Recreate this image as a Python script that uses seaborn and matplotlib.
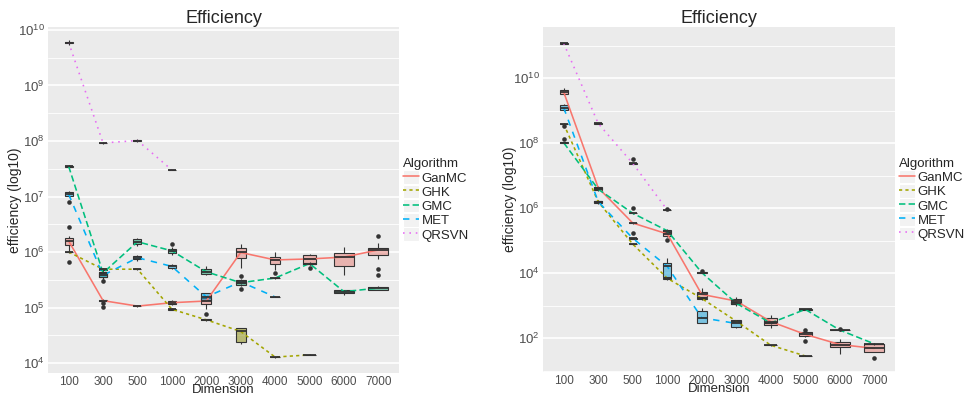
import matplotlib
matplotlib.use("Agg")
import pandas as pd
import matplotlib.pyplot as plt
import seaborn as sns
from matplotlib.lines import Line2D
from matplotlib.patches import Patch
from matplotlib.ticker import FixedLocator, NullFormatter

# -------------------------------
# Data
# each box is (lower whisker, q1, median, q3, upper whisker), None = no run
# -------------------------------
DIMS = ["100", "300", "500", "1000", "2000", "3000", "4000", "5000", "6000", "7000"]
ALGS = ["GanMC", "GHK", "GMC", "MET", "QRSVN"]

left_ganmc = [(1.04e6, 1.34e6, 1.58e6, 1.77e6, 1.94e6), (1.25e5, 1.30e5, 1.33e5, 1.36e5, 1.40e5),
              (1.03e5, 1.05e5, 1.06e5, 1.07e5, 1.09e5), (1.10e5, 1.14e5, 1.22e5, 1.31e5, 1.35e5),
              (9.4e4, 1.14e5, 1.31e5, 1.47e5, 1.60e5), (5.1e5, 7.7e5, 9.8e5, 1.17e6, 1.38e6),
              (4.8e5, 6.1e5, 7.2e5, 8.0e5, 1.01e6), (5.9e5, 6.1e5, 7.5e5, 8.9e5, 9.2e5),
              (3.9e5, 5.6e5, 8.1e5, 9.5e5, 1.22e6), (7.4e5, 8.9e5, 1.09e6, 1.20e6, 1.43e6)]
left_ghk = [(9.7e5, 9.9e5, 1.0e6, 1.01e6, 1.03e6), (4.7e5, 4.8e5, 4.9e5, 5.0e5, 5.1e5),
            (4.8e5, 4.85e5, 4.9e5, 4.95e5, 5.0e5), (9.0e4, 9.2e4, 9.3e4, 9.4e4, 9.6e4),
            (5.8e4, 5.9e4, 6.0e4, 6.1e4, 6.2e4), (2.2e4, 2.4e4, 3.7e4, 4.2e4, 4.3e4),
            (1.25e4, 1.27e4, 1.28e4, 1.29e4, 1.31e4), (1.37e4, 1.39e4, 1.40e4, 1.41e4, 1.43e4),
            None, None]
left_gmc = [(3.3e7, 3.4e7, 3.5e7, 3.6e7, 3.7e7), (3.2e5, 3.5e5, 4.2e5, 4.4e5, 5.1e5),
            (1.3e6, 1.39e6, 1.53e6, 1.70e6, 1.8e6), (8.8e5, 9.7e5, 1.05e6, 1.13e6, 1.25e6),
            (3.8e5, 4.0e5, 4.4e5, 4.9e5, 5.7e5), (2.4e5, 2.5e5, 2.8e5, 3.1e5, 3.2e5),
            (3.3e5, 3.35e5, 3.4e5, 3.45e5, 3.5e5), (5.8e5, 6.0e5, 6.2e5, 6.4e5, 6.6e5),
            (1.68e5, 1.82e5, 1.93e5, 2.07e5, 2.1e5), (2.05e5, 2.09e5, 2.24e5, 2.37e5, 2.4e5)]
left_met = [(9.8e6, 1.02e7, 1.1e7, 1.2e7, 1.25e7), (3.3e5, 3.6e5, 3.8e5, 4.1e5, 4.4e5),
            (7.0e5, 7.4e5, 7.9e5, 8.5e5, 8.8e5), (5.0e5, 5.1e5, 5.5e5, 5.8e5, 6.0e5),
            (1.3e5, 1.36e5, 1.55e5, 1.8e5, 1.85e5), (2.7e5, 2.8e5, 2.9e5, 3.0e5, 3.1e5),
            (1.52e5, 1.54e5, 1.55e5, 1.56e5, 1.58e5), None, None, None]
left_qrsvn = [(5.4e9, 5.75e9, 5.95e9, 6.2e9, 6.6e9), (9.0e7, 9.1e7, 9.2e7, 9.3e7, 9.4e7),
              (9.6e7, 1.0e8, 1.02e8, 1.04e8, 1.08e8), (2.95e7, 2.98e7, 3.0e7, 3.02e7, 3.05e7),
              None, None, None, None, None, None]
left_out_dim = ["100", "100", "100", "300", "300", "300", "1000", "2000", "3000", "3000",
                "4000", "5000", "7000", "7000", "7000"]
left_out_val = [2.8e6, 6.5e5, 7.9e6, 1.19e5, 1.02e5, 3.0e5, 1.38e6, 7.6e4, 3.7e5, 2.2e5,
                4.1e5, 5.1e5, 1.95e6, 4.9e5, 3.9e5]

right_ganmc = [(2.9e9, 3.2e9, 3.7e9, 4.3e9, 4.8e9), (3.5e6, 3.9e6, 4.2e6, 4.5e6, 4.9e6),
               (3.2e5, 3.35e5, 3.45e5, 3.55e5, 3.7e5), (1.25e5, 1.37e5, 1.6e5, 1.86e5, 2.0e5),
               (1.48e3, 1.79e3, 2.2e3, 2.66e3, 3.5e3), (1.0e3, 1.09e3, 1.37e3, 1.58e3, 1.8e3),
               (2.0e2, 2.5e2, 3.2e2, 4.2e2, 5.1e2), (1.1e2, 1.15e2, 1.29e2, 1.53e2, 1.6e2),
               (32, 52, 63, 77, 93), (36, 38, 48, 65, 71)]
right_ghk = [(3.6e8, 3.75e8, 3.85e8, 3.95e8, 4.1e8), (1.35e6, 1.45e6, 1.55e6, 1.7e6, 1.8e6),
             (7.4e4, 7.6e4, 7.8e4, 8.0e4, 8.2e4), (6.5e3, 6.7e3, 6.9e3, 7.1e3, 7.3e3),
             (1.55e3, 1.6e3, 1.65e3, 1.7e3, 1.75e3), (3.1e2, 3.2e2, 3.3e2, 3.4e2, 3.5e2),
             (58, 59, 60, 61, 62), (27, 27.5, 28, 28.5, 29), None, None]
right_gmc = [(9.6e7, 1.0e8, 1.02e8, 1.04e8, 1.07e8), (3.4e6, 3.6e6, 3.8e6, 4.0e6, 4.3e6),
             (6.6e5, 6.8e5, 6.9e5, 7.0e5, 7.2e5), (1.7e5, 1.85e5, 2.0e5, 2.1e5, 2.2e5),
             (9.8e3, 1.0e4, 1.03e4, 1.05e4, 1.08e4), (1.05e3, 1.1e3, 1.17e3, 1.25e3, 1.3e3),
             (2.7e2, 2.8e2, 2.9e2, 3.0e2, 3.1e2), (7.3e2, 7.5e2, 7.6e2, 7.7e2, 7.9e2),
             (1.7e2, 1.73e2, 1.76e2, 1.79e2, 1.82e2), (63, 65, 66, 67, 69)]
right_met = [(9.5e8, 1.03e9, 1.22e9, 1.48e9, 1.6e9), (1.4e6, 1.5e6, 1.57e6, 1.65e6, 1.75e6),
             (1.12e5, 1.15e5, 1.17e5, 1.19e5, 1.22e5), (6.0e3, 7.8e3, 1.6e4, 2.1e4, 3.0e4),
             (2.9e2, 3.0e2, 4.2e2, 6.9e2, 8.3e2), (2.0e2, 2.2e2, 2.8e2, 3.5e2, 3.6e2),
             None, None, None, None]
right_qrsvn = [(1.12e11, 1.15e11, 1.17e11, 1.19e11, 1.22e11), (3.9e8, 3.95e8, 4.0e8, 4.05e8, 4.1e8),
               (2.3e7, 2.33e7, 2.37e7, 2.41e7, 2.45e7), (8.5e5, 8.6e5, 8.7e5, 8.8e5, 8.9e5),
               None, None, None, None, None, None]
right_out_dim = ["100", "100", "500", "500", "500", "1000", "1000", "2000", "5000", "5000",
                 "6000", "7000"]
right_out_val = [3.3e8, 1.3e8, 3.2e7, 1.0e6, 1.65e5, 9.5e5, 1.03e5, 1.15e4, 1.8e2, 81,
                 1.9e2, 24]

# -------------------------------
# Style (ggplot2 look)
# -------------------------------
COLORS = ["#F8766D", "#A3A500", "#00BF7D", "#00B0F6", "#E76BF3"]
LINESTYLES = ["-", (0, (2, 2)), (0, (4, 2)), (0, (4, 4)), (0, (1, 3))]
PALETTE = dict(zip(ALGS, COLORS))
LW = 1.15

sns.set_theme(style="darkgrid", rc={"axes.facecolor": "#EBEBEB", "grid.color": "white"})
plt.rcParams["font.family"] = ["Liberation Sans", "DejaVu Sans"]
plt.rcParams["mathtext.fontset"] = "custom"
plt.rcParams["mathtext.rm"] = "Liberation Sans"


def long_frames(series, out_dim, out_val):
    box_rows, med_rows = [], []
    for alg, boxes in zip(ALGS, series):
        for dim, box in zip(DIMS, boxes):
            if box is None:
                continue
            for v in box:
                box_rows.append((alg, dim, v))
            med_rows.append((alg, dim, box[2]))
    boxes = pd.DataFrame(box_rows, columns=["alg", "dim", "eff"])
    meds = pd.DataFrame(med_rows, columns=["alg", "dim", "eff"])
    outs = pd.DataFrame({"dim": out_dim, "eff": out_val})
    return boxes, meds, outs


def draw_panel(ax, series, out_dim, out_val, ylim, majors, minors):
    boxes, meds, outs = long_frames(series, out_dim, out_val)
    ax.set_yscale("log")
    # ggplot shares the box width between the algorithms present at a dimension
    for dim in DIMS:
        sub = boxes[boxes["dim"] == dim]
        n = sub["alg"].nunique()
        sns.boxplot(data=sub, x="dim", y="eff", hue="alg", order=DIMS, hue_order=ALGS,
                    palette=PALETTE, dodge=False, width=1.16 / n, whis=(0, 100),
                    showcaps=False, showfliers=False, linecolor="#333333", linewidth=0.8,
                    medianprops={"linewidth": 1.3}, log_scale=True, legend=False, ax=ax)
    for p in ax.patches:
        r, g, b, _ = p.get_facecolor()
        p.set_facecolor((r, g, b, 0.55))
    sns.stripplot(data=outs, x="dim", y="eff", order=DIMS, jitter=False, color="#333333",
                  size=3.3, linewidth=0, log_scale=True, ax=ax)
    sns.pointplot(data=meds, x="dim", y="eff", hue="alg", order=DIMS, hue_order=ALGS,
                  palette=PALETTE, markers="", linestyles=LINESTYLES, errorbar=None,
                  linewidth=LW, log_scale=True, legend=False, ax=ax)

    ax.set_xlim(-0.6, 9.6)
    ax.set_ylim(*ylim)
    ax.yaxis.set_major_locator(FixedLocator([10.0 ** k for k in majors]))
    ax.set_yticklabels([r"$\mathregular{10^{%d}}$" % k for k in majors])
    ax.yaxis.set_minor_locator(FixedLocator([10.0 ** k for k in minors]))
    ax.yaxis.set_minor_formatter(NullFormatter())
    ax.grid(False, axis="x")
    ax.grid(True, axis="y", which="major", color="white", linewidth=1.2)
    ax.grid(True, axis="y", which="minor", color="white", linewidth=0.6)
    ax.tick_params(axis="both", which="major", length=1.6, width=0.6, color="#333333",
                   labelcolor="#4D4D4D", pad=1.0)
    ax.tick_params(axis="x", labelsize=8.5, pad=0.6)
    ax.tick_params(axis="y", labelsize=9.5)
    ax.tick_params(axis="both", which="minor", length=0)
    for s in ax.spines.values():
        s.set_visible(False)

    ax.set_title("Efficiency", fontsize=13, pad=3)
    ax.set_xlabel("Dimension", fontsize=9.5)
    ax.set_ylabel("efficiency (log10)", fontsize=10)
    h = ax.get_position().height * 399
    ax.xaxis.set_label_coords(0.5, -11.0 / h)
    ax.yaxis.set_label_coords(-0.073, 0.5)

    handles = [(Patch(facecolor="#F2F2F2", edgecolor="white", linewidth=0.8),
                Line2D([], [], color=c, linewidth=LW, linestyle=ls))
               for c, ls in zip(COLORS, LINESTYLES)]
    leg = ax.legend(handles, ALGS, title="Algorithm", loc="center left",
                    bbox_to_anchor=(1.012, 0.5), frameon=False, fontsize=9.5,
                    title_fontsize=9.5, handlelength=1.2, handleheight=1.2,
                    handletextpad=0.2, labelspacing=0.0, borderaxespad=0, borderpad=0,
                    alignment="left")
    return leg


fig = plt.figure(figsize=(9.64, 3.99), dpi=100)
ax1 = fig.add_axes([48 / 964, 1 - 373 / 399, 351 / 964, 346 / 399])
ax2 = fig.add_axes([543 / 964, 1 - 372 / 399, 352 / 964, 345 / 399])

draw_panel(ax1, [left_ganmc, left_ghk, left_gmc, left_met, left_qrsvn],
           left_out_dim, left_out_val, (10 ** 3.82, 10 ** 10.054),
           [4, 5, 6, 7, 8, 9, 10], [3.5, 4.5, 5.5, 6.5, 7.5, 8.5, 9.5])
draw_panel(ax2, [right_ganmc, right_ghk, right_gmc, right_met, right_qrsvn],
           right_out_dim, right_out_val, (10 ** 0.954, 10 ** 11.57),
           [2, 4, 6, 8, 10], [1, 3, 5, 7, 9, 11])

fig.savefig("out.png", dpi=100)
